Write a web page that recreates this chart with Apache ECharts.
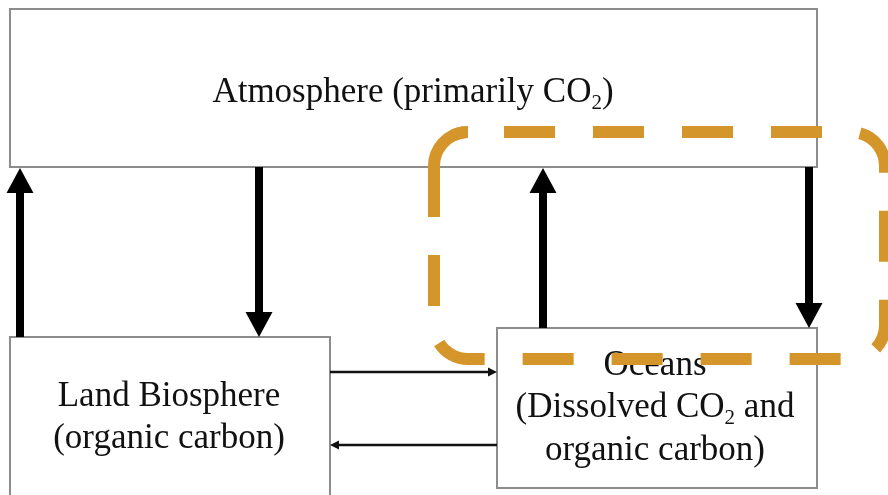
<!DOCTYPE html>
<html>
<head>
<meta charset="utf-8">
<script src="https://cdn.jsdelivr.net/npm/echarts@6/dist/echarts.min.js"></script>
<style>
    html, body { margin: 0; padding: 0; background: #fff; }
    #echartsArea { width: 888px; height: 495px; }
</style>
</head>
<body>
<div id="echartsArea"></div>
<script>
//方框 [x0, y0, x1, y1]
var boxes = [
    [10, 9, 817, 167],
    [10, 337, 330, 506],
    [497, 328, 817, 488]
];
//方框文字 (rich text, 2 = 下标)
var boxLabels = [
    '{a|Atmosphere (primarily CO}{s|2}{a|)}',
    '{a|Land Biosphere}\n{a|(organic carbon)}',
    '{a|Oceans}\n{a|(Dissolved CO}{s|2}{a| and}\n{a|organic carbon)}'
];
var labelAnchors = [
    [413, 93],
    [169, 418],
    [655, 408]
];
//粗箭头 [x, yFrom, yTo]
var bigArrows = [
    [20, 337, 168],
    [259, 167, 337],
    [543, 328, 168],
    [809, 167, 328]
];
//细箭头 [xFrom, xTo, y]
var smallArrows = [
    [330, 497, 372],
    [497, 330, 445]
];
//虚线圆角框 [x0, y0, x1, y1]
var highlight = [
    [434, 132, 885, 359]
];

var dom = document.getElementById("echartsArea");
var myChart = echarts.init(dom, null, {renderer: 'canvas'});

var serif = "'Liberation Serif', 'Times New Roman', serif";
var orange = '#D4962A';

function renderBox(params, api) {
    var p0 = api.coord([api.value(0), api.value(1)]);
    var p1 = api.coord([api.value(2), api.value(3)]);
    return {
        type: 'rect',
        shape: {x: p0[0], y: p0[1], width: p1[0] - p0[0], height: p1[1] - p0[1]},
        style: {fill: '#fff', stroke: '#8c8c8c', lineWidth: 2}
    };
}

function renderLabel(params, api) {
    var p = api.coord([api.value(0), api.value(1)]);
    return {
        type: 'text',
        x: p[0],
        y: p[1],
        style: {
            text: boxLabels[params.dataIndex],
            align: 'center',
            verticalAlign: 'middle',
            fill: '#111',
            rich: {
                a: {fontSize: 35, fontFamily: serif, lineHeight: 42.5, fill: '#111'},
                s: {fontSize: 21, fontFamily: serif, lineHeight: 21, verticalAlign: 'bottom', fill: '#111'}
            }
        }
    };
}

function renderBigArrow(params, api) {
    var a = api.coord([api.value(0), api.value(1)]);
    var b = api.coord([api.value(0), api.value(2)]);
    var x = a[0];
    var dir = b[1] > a[1] ? 1 : -1;
    var half = 4, headHalf = 13.5, headLen = 25;
    var yNeck = b[1] - dir * headLen;
    return {
        type: 'polygon',
        shape: {
            points: [
                [x - half, a[1]], [x - half, yNeck], [x - headHalf, yNeck],
                [x, b[1]],
                [x + headHalf, yNeck], [x + half, yNeck], [x + half, a[1]]
            ]
        },
        style: {fill: '#000'}
    };
}

function renderSmallArrow(params, api) {
    var a = api.coord([api.value(0), api.value(2)]);
    var b = api.coord([api.value(1), api.value(2)]);
    var dir = b[0] > a[0] ? 1 : -1;
    var headLen = 9, headHalf = 4.5;
    return {
        type: 'group',
        children: [{
            type: 'line',
            shape: {x1: a[0], y1: a[1], x2: b[0] - dir * headLen, y2: b[1]},
            style: {stroke: '#111', lineWidth: 2.5}
        }, {
            type: 'polygon',
            shape: {points: [[b[0], b[1]], [b[0] - dir * headLen, b[1] - headHalf], [b[0] - dir * headLen, b[1] + headHalf]]},
            style: {fill: '#111'}
        }]
    };
}

function renderHighlight(params, api) {
    var p0 = api.coord([api.value(0), api.value(1)]);
    var p1 = api.coord([api.value(2), api.value(3)]);
    var r = 34;
    return {
        type: 'group',
        children: [{
            type: 'rect',
            shape: {x: p0[0], y: p0[1], width: p1[0] - p0[0], height: p1[1] - p0[1], r: r},
            style: {
                fill: null,
                stroke: orange,
                lineWidth: 12,
                lineDash: [51, 38],
                lineDashOffset: 53
            }
        }, {
            //左上角是一整段
            type: 'arc',
            shape: {cx: p0[0] + r, cy: p0[1] + r, r: r, startAngle: Math.PI, endAngle: Math.PI * 1.5 - 0.12, clockwise: true},
            style: {fill: null, stroke: orange, lineWidth: 12, lineCap: 'butt'}
        }]
    };
}

var option = {
    animation: false,
    backgroundColor: '#fff',
    grid: {left: 0, right: 0, top: 0, bottom: 0},
    xAxis: {type: 'value', min: 0, max: 888, show: false},
    yAxis: {type: 'value', min: 0, max: 495, inverse: true, show: false},
    series: [
        {type: 'custom', renderItem: renderBox, data: boxes, z: 1, silent: true},
        {type: 'custom', renderItem: renderLabel, data: labelAnchors, z: 2, silent: true},
        {type: 'custom', renderItem: renderBigArrow, data: bigArrows, z: 3, silent: true},
        {type: 'custom', renderItem: renderSmallArrow, data: smallArrows, z: 3, silent: true},
        {type: 'custom', renderItem: renderHighlight, data: highlight, z: 4, silent: true}
    ]
};
myChart.setOption(option);
</script>
</body>
</html>
